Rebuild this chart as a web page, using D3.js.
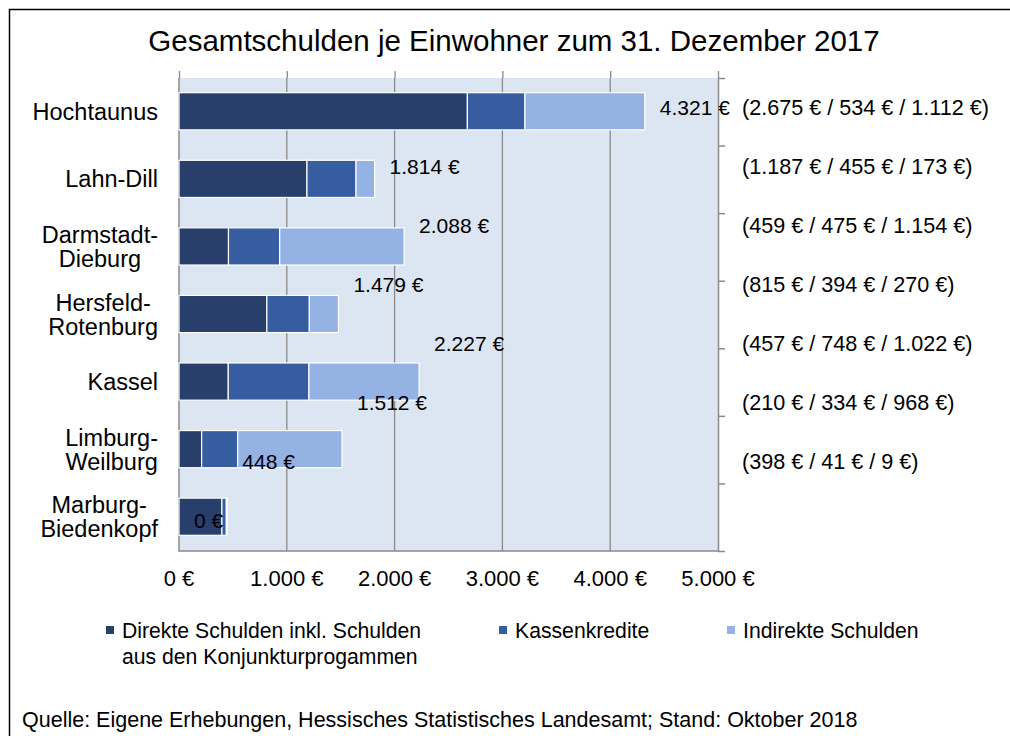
<!DOCTYPE html>
<html>
<head>
<meta charset="utf-8">
<script src="https://cdn.jsdelivr.net/npm/d3@7"></script>
<style>
  body { margin: 0; background: #fff; }
  text { font-family: "Liberation Sans", Arial, sans-serif; fill: #000; }
</style>
</head>
<body>
<script>
// data
var districts = ["Hochtaunus", "Lahn-Dill", "Darmstadt-Dieburg", "Hersfeld-Rotenburg",
                 "Kassel", "Limburg-Weilburg", "Marburg-Biedenkopf"];
var districtLines = [["Hochtaunus"], ["Lahn-Dill"], ["Darmstadt-", "Dieburg"], ["Hersfeld-", "Rotenburg"],
                     ["Kassel"], ["Limburg-", "Weilburg"], ["Marburg-", "Biedenkopf"]];
var direkt = [2675, 1187, 459, 815, 457, 210, 398];
var kasse = [534, 455, 475, 394, 748, 334, 41];
var indirekt = [1112, 173, 1154, 270, 1022, 968, 9];
// total labels as they sit in the original (eight slots, last one "0 €")
var totalLabels = [4321, 1814, 2088, 1479, 2227, 1512, 448, 0];
var xTicks = [0, 1000, 2000, 3000, 4000, 5000];
var seriesNames = ["Direkte Schulden inkl. Schulden|aus den Konjunkturprogammen", "Kassenkredite", "Indirekte Schulden"];
var colors = ["#283f6b", "#355d9f", "#95b2e5"];

var W = 1010, H = 736;
var plot = {left: 179, right: 718, top: 78, bottom: 551};

var de = d3.formatLocale({decimal: ",", thousands: ".", grouping: [3], currency: ["", " €"]});
var eur = de.format("$,.0f");

var svg = d3.select("body").append("svg")
    .attr("width", W)
    .attr("height", H);

svg.append("rect").attr("width", W).attr("height", H).attr("fill", "#fff");

// outer frame
svg.append("rect")
    .attr("x", 9.5).attr("y", 9.5)
    .attr("width", W).attr("height", H)
    .attr("fill", "none").attr("stroke", "#000").attr("stroke-width", 1.5);

svg.append("text")
    .attr("x", 514).attr("y", 51)
    .attr("text-anchor", "middle")
    .attr("font-size", "29.5px")
    .text("Gesamtschulden je Einwohner zum 31. Dezember 2017");

var x = d3.scaleLinear().domain([0, 5000]).range([plot.left, plot.right]);
var y = d3.scaleBand().domain(districts).range([plot.top, plot.bottom])
    .paddingInner(0.45).paddingOuter(0.225);
var yLab = d3.scaleBand().domain(d3.range(totalLabels.length)).range([plot.top, plot.bottom]);
var rowEdge = d3.scaleLinear().domain([0, districts.length]).range([plot.top, plot.bottom]);

var rows = districts.map(function(d, i) {
  return {name: d, direkt: direkt[i], kasse: kasse[i], indirekt: indirekt[i]};
});
var keys = ["direkt", "kasse", "indirekt"];
var stack = d3.stack().keys(keys)(rows);

// plot background
svg.append("rect")
    .attr("x", plot.left).attr("y", plot.top)
    .attr("width", plot.right - plot.left).attr("height", plot.bottom - plot.top)
    .attr("fill", "#dce6f2");

// grid
svg.append("g").selectAll("line")
  .data(xTicks.slice(1, -1))
  .enter().append("line")
    .attr("x1", function(d) { return x(d); }).attr("x2", function(d) { return x(d); })
    .attr("y1", plot.top).attr("y2", plot.bottom)
    .attr("stroke", "#8a8a8a").attr("stroke-width", 1.3);

// top axis (ticks only)
var topAxis = svg.append("g")
    .attr("transform", "translate(0," + plot.top + ")")
    .call(d3.axisTop(x).tickValues(xTicks).tickSize(7).tickFormat(""));
topAxis.selectAll("line, path").attr("stroke", "#8a8a8a").attr("stroke-width", 1.3);
topAxis.select(".domain").remove();

// right axis (band edges)
var rightAxis = svg.append("g")
    .attr("transform", "translate(" + plot.right + ",0)")
    .call(d3.axisRight(rowEdge).tickValues(d3.range(districts.length + 1)).tickSize(7).tickSizeOuter(0).tickFormat(""));
rightAxis.selectAll("line, path").attr("stroke", "#8a8a8a").attr("stroke-width", 1.5);

// left + bottom border
svg.append("path")
    .attr("d", "M" + plot.left + "," + plot.top + "V" + plot.bottom + "H" + plot.right)
    .attr("fill", "none").attr("stroke", "#8a8a8a").attr("stroke-width", 1.5);

// bars
svg.append("g").selectAll("g")
  .data(stack)
  .enter().append("g")
    .attr("fill", function(d, i) { return colors[i]; })
  .selectAll("rect")
  .data(function(d) { return d; })
  .enter().append("rect")
    .attr("x", function(d) { return x(d[0]); })
    .attr("y", function(d) { return y(d.data.name) - 0.5; })
    .attr("width", function(d) { return x(d[1]) - x(d[0]); })
    .attr("height", y.bandwidth())
    .attr("stroke", "#fff").attr("stroke-width", 1.2);

// x tick labels
svg.append("g").selectAll("text")
  .data(xTicks)
  .enter().append("text")
    .attr("x", function(d) { return x(d); })
    .attr("y", 586)
    .attr("text-anchor", "middle")
    .attr("font-size", "22px")
    .text(function(d) { return eur(d); });

// category labels: lines centred on each other, block right-aligned
var cat = svg.append("g").selectAll("g")
  .data(districts)
  .enter().append("g");
cat.each(function(d, i) {
  var g = d3.select(this);
  var lines = districtLines[i];
  var cy = y(d) + y.bandwidth() / 2;
  var lh = 24;
  var texts = lines.map(function(l, j) {
    return g.append("text")
      .attr("font-size", "23.5px")
      .attr("text-anchor", "middle")
      .attr("y", cy + (j - (lines.length - 1) / 2) * lh + 8)
      .text(l);
  });
  var wMax = d3.max(texts, function(t) { return t.node().getComputedTextLength(); });
  texts.forEach(function(t) { t.attr("x", 158 - wMax / 2); });
});

// total labels
svg.append("g").selectAll("text")
  .data(totalLabels)
  .enter().append("text")
    .attr("x", function(d) { return x(d) + 15; })
    .attr("y", function(d, i) { return yLab(i) + yLab.bandwidth() / 2 + 7; })
    .attr("font-size", "21px")
    .text(function(d) { return eur(d); });

// breakdown labels right of the plot
svg.append("g").selectAll("text")
  .data(rows)
  .enter().append("text")
    .attr("x", 742)
    .attr("y", function(d, i) { return yLab(i) + yLab.bandwidth() / 2 + 7; })
    .attr("font-size", "21.6px")
    .text(function(d) { return "(" + eur(d.direkt) + " / " + eur(d.kasse) + " / " + eur(d.indirekt) + ")"; });

// legend
var legendX = [106, 499, 727];
var leg = svg.append("g").selectAll("g")
  .data(seriesNames)
  .enter().append("g")
    .attr("transform", function(d, i) { return "translate(" + legendX[i] + ",626)"; });
leg.append("rect")
    .attr("width", 8).attr("height", 8)
    .attr("fill", function(d, i) { return colors[i]; });
leg.each(function(d) {
  var t = d3.select(this).append("text").attr("font-size", "21.2px");
  d.split("|").forEach(function(l, j) {
    t.append("tspan").attr("x", 16).attr("y", 12 + j * 26).text(l);
  });
});

svg.append("text")
    .attr("x", 22).attr("y", 727)
    .attr("font-size", "21.5px")
    .text("Quelle: Eigene Erhebungen, Hessisches Statistisches Landesamt; Stand: Oktober 2018");
</script>
</body>
</html>
